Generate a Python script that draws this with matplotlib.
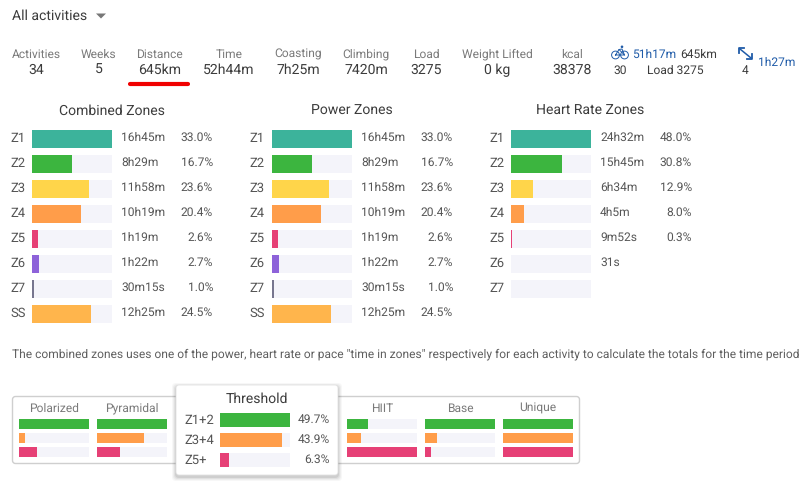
#!/usr/bin/env python3
"""Zone summary panel: stats row, time in zones bars and distribution cards."""

import matplotlib
matplotlib.use("Agg")
import matplotlib.pyplot as plt
from matplotlib.patches import Circle, FancyBboxPatch

WIDTH, HEIGHT = 810, 483

stat_labels = ["Activities", "Weeks", "Distance", "Time", "Coasting", "Climbing",
               "Load", "Weight Lifted", "kcal"]
stat_values = ["34", "5", "645km", "52h44m", "7h25m", "7420m", "3275", "0 kg", "38378"]

zone_names = ["Z1", "Z2", "Z3", "Z4", "Z5", "Z6", "Z7", "SS"]
combined_pct = [33.0, 16.7, 23.6, 20.4, 2.6, 2.7, 1.0, 24.5]
combined_time = ["16h45m", "8h29m", "11h58m", "10h19m", "1h19m", "1h22m", "30m15s", "12h25m"]
power_pct = [33.0, 16.7, 23.6, 20.4, 2.6, 2.7, 1.0, 24.5]
power_time = ["16h45m", "8h29m", "11h58m", "10h19m", "1h19m", "1h22m", "30m15s", "12h25m"]
hr_names = ["Z1", "Z2", "Z3", "Z4", "Z5", "Z6", "Z7"]
hr_pct = [48.0, 30.8, 12.9, 8.0, 0.3, 0.0, 0.0]
hr_time = ["24h32m", "15h45m", "6h34m", "4h5m", "9m52s", "31s", ""]
hr_pct_labels = ["48.0%", "30.8%", "12.9%", "8.0%", "0.3%", "", ""]

# relative bar lengths of the distribution cards, longest bar = 100
polarized = [100, 8.5, 26]
pyramidal = [100, 67, 33]
hiit = [30, 20, 100]
base = [100, 17, 8.5]
unique = [100, 100, 100]
threshold_names = ["Z1+2", "Z3+4", "Z5+"]
threshold_pct = [49.7, 43.9, 6.3]

ZONE_COLORS = ["#3cb39b", "#3cb53f", "#ffd54a", "#ff9d4a", "#e64076", "#8d62d9", "#77768f", "#ffb54c"]
DIST_COLORS = ["#3cb53f", "#ff9d4a", "#e64076"]
TRACK = "#f4f4fa"
DARK = "#3c3c3c"
GREY = "#7a7a7a"
BLUE = "#1f5ba8"

plt.rcParams["font.family"] = ["Roboto", "DejaVu Sans"]
plt.rcParams["text.hinting"] = "no_hinting"
plt.rcParams["text.hinting_factor"] = 1

fig = plt.figure(figsize=(WIDTH / 100, HEIGHT / 100), dpi=100)

# base layer in pixel coordinates, used for text and decoration
page = fig.add_axes([0, 0, 1, 1], zorder=0)
page.set_xlim(0, WIDTH)
page.set_ylim(HEIGHT, 0)
page.axis("off")


def px(size):
    return size * 0.72


def label(x, y, s, size=12, color=DARK, ha="left", **kw):
    page.text(x, y, s, fontsize=px(size), color=color, ha=ha, va="center", **kw)


def bar_axes(x, y, w, h):
    ax = fig.add_axes([x / WIDTH, 1 - (y + h) / HEIGHT, w / WIDTH, h / HEIGHT], zorder=2)
    ax.axis("off")
    return ax


def bars(x, y, w, row_h, bar_h, values, colors, vmax):
    ax = bar_axes(x, y, w, row_h * len(values))
    rows = range(len(values))
    ax.barh(rows, [vmax] * len(values), height=bar_h / row_h, color=TRACK)
    ax.barh(rows, values, height=bar_h / row_h, color=colors)
    ax.set_xlim(0, vmax)
    ax.set_ylim(len(values) - 0.5, -0.5)
    return ax


def zone_panel(title, title_x, name_x, bar_x, time_x, pct_x, names, pct, times, pct_labels=None):
    label(title_x, 111, title, size=14, ha="center")
    bars(bar_x, 126.5, 80, 25, 18, pct, ZONE_COLORS[:len(pct)], max(pct))
    if pct_labels is None:
        pct_labels = [f"{p:.1f}%" for p in pct]
    for i, name in enumerate(names):
        y = 138 + i * 25
        label(name_x, y, name, size=13, color="#555555")
        label(time_x, y, times[i], color="#555555")
        label(pct_x, y, pct_labels[i], color="#555555", ha="right")


# header
label(12, 16, "All activities", size=14)
page.fill([96, 106, 101], [13.5, 13.5, 18.5], color="#777777", lw=0)

stat_x = [36.5, 98.5, 159.5, 229, 298, 366, 426, 497, 572]
for x, name, value in zip(stat_x, stat_labels, stat_values):
    label(x, 54.5, name, color=GREY, ha="center")
    label(x, 70.5, value, size=14, ha="center")
page.plot([130, 187.5], [83.5, 83.5], color="#f00000", lw=3, solid_capstyle="round")

# bike summary
for cx in (615.5, 624.5):
    page.add_patch(Circle((cx, 55), 3.9, fill=False, ec=BLUE, lw=0.7))
page.plot([615.5, 619, 624.5, 620, 615.5], [55, 49.5, 55, 55, 55], color=BLUE, lw=0.7)
page.plot([619, 622, 624.5], [49.5, 49, 55], color=BLUE, lw=0.7)
page.add_patch(Circle((622, 46.8), 1.3, color=BLUE, lw=0))
label(632, 55, "51h17m", size=12, color=BLUE)
label(680.5, 55, "645km", size=12)
label(620, 71, "30", ha="center")
label(647, 71, "Load 3275")

# other sports summary
page.plot([740, 751], [49, 58], color=BLUE, lw=1.1)
page.plot([739, 739, 744], [53, 48, 48], color=BLUE, lw=1.3)
page.plot([747, 752, 752], [59, 59, 54], color=BLUE, lw=1.3)
label(745, 71, "4", ha="center")
label(758, 63, "1h27m", size=12, color=BLUE)

# zone panels
zone_panel("Combined Zones", 112, 10, 32, 121, 213, zone_names, combined_pct, combined_time)
zone_panel("Power Zones", 352, 249, 272, 361, 453, zone_names, power_pct, power_time)
zone_panel("Heart Rate Zones", 590, 489, 511, 600, 692, hr_names, hr_pct, hr_time, hr_pct_labels)

label(12, 354.5, "The combined zones uses one of the power, heart rate or pace \"time in zones\" "
      "respectively for each activity to calculate the totals for the time period",
      size=11.97, color="#5f5f5f")

# distribution card
page.add_patch(FancyBboxPatch((12.5, 396.5), 567, 67, boxstyle="round,pad=0,rounding_size=3",
                              fc="white", ec="#cfcfcf", lw=1, zorder=1))
card_titles = ["Polarized", "Pyramidal", "HIIT", "Base", "Unique"]
card_values = [polarized, pyramidal, hiit, base, unique]
card_x = [19, 97, 347, 425, 503]
for x, name, values in zip(card_x, card_titles, card_values):
    page.text(x + 35, 408.5, name, fontsize=px(12), color=GREY, ha="center", va="center", zorder=2)
    bars(x, 417, 70, 14, 10, values, DIST_COLORS, 100)

# tooltip on top of the card
for grow, alpha in ((4, 0.03), (3, 0.04), (2, 0.05), (1, 0.08)):
    page.add_patch(FancyBboxPatch((176 - grow, 385 - grow + 2), 162 + 2 * grow, 90 + 2 * grow,
                                  boxstyle="round,pad=0,rounding_size=4", fc="black", ec="none",
                                  alpha=alpha, zorder=3))
page.add_patch(FancyBboxPatch((176, 385), 162, 90, boxstyle="round,pad=0,rounding_size=3",
                              fc="white", ec="#e2e2e2", lw=0.6, zorder=4))
page.text(257, 399, "Threshold", fontsize=px(14), color=DARK, ha="center", va="center", zorder=5)
bars(220, 410, 70, 20, 14, threshold_pct, DIST_COLORS, max(threshold_pct))
for i, name in enumerate(threshold_names):
    y = 420 + i * 20
    page.text(184, y, name, fontsize=px(12.5), color="#555555", va="center", zorder=5)
    page.text(330, y, f"{threshold_pct[i]:.1f}%", fontsize=px(12), color="#555555",
              ha="right", va="center", zorder=5)

fig.savefig("out.png", dpi=100)
